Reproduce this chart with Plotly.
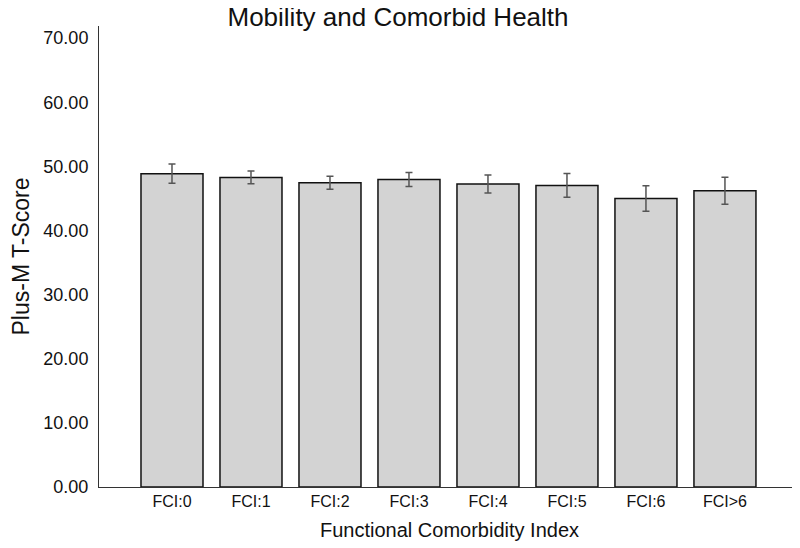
import plotly.graph_objects as go

categories = ["FCI:0", "FCI:1", "FCI:2", "FCI:3", "FCI:4", "FCI:5", "FCI:6", "FCI>6"]
means = [48.86, 48.29, 47.45, 47.97, 47.25, 47.04, 45.00, 46.20]
errors = [1.50, 1.00, 1.00, 1.10, 1.40, 1.85, 2.00, 2.10]
y_ticks = [0, 10, 20, 30, 40, 50, 60, 70]
y_tick_text = [f"{v:.2f}" for v in y_ticks]

FONT = "Arial, Liberation Sans, Helvetica, sans-serif"

fig = go.Figure()
fig.add_trace(go.Bar(
    x=list(range(len(categories))),
    y=means,
    marker=dict(color="#d3d3d3", line=dict(color="#111111", width=1.5)),
    error_y=dict(type="data", array=errors, visible=True, color="#555555", thickness=1.5, width=3.5),
    width=0.785,
))

fig.update_layout(
    width=800, height=548,
    paper_bgcolor="white", plot_bgcolor="white",
    margin=dict(l=91, r=8, t=18, b=69, autoexpand=False),
    showlegend=False,
    font=dict(family=FONT, color="#111111"),
    title=dict(text="Mobility and Comorbid Health", x=0.4875, xanchor="center",
               y=1.0, yanchor="top", yref="container",
               font=dict(size=26, family=FONT, color="#111111")),
    xaxis=dict(
        range=[-0.924, 7.95], automargin=False,
        tickmode="array", tickvals=list(range(len(categories))), ticktext=categories,
        showline=True, linecolor="#333333", linewidth=1,
        showgrid=False, zeroline=False, ticks="",
        tickfont=dict(size=16, family=FONT, color="#111111"),
        title=dict(text="Functional Comorbidity Index", font=dict(size=20, family=FONT, color="#111111"), standoff=13),
    ),
    yaxis=dict(
        range=[0, 71.9], automargin=False,
        tickmode="array", tickvals=y_ticks, ticktext=y_tick_text,
        showline=True, linecolor="#333333", linewidth=1,
        showgrid=False, zeroline=False, ticks="",
        ticklabelstandoff=6,
        tickfont=dict(size=18, family=FONT, color="#111111"),
        title=dict(text="Plus-M T-Score", font=dict(size=23, family=FONT, color="#111111"), standoff=21),
    ),
)

fig.write_html("out.html")
